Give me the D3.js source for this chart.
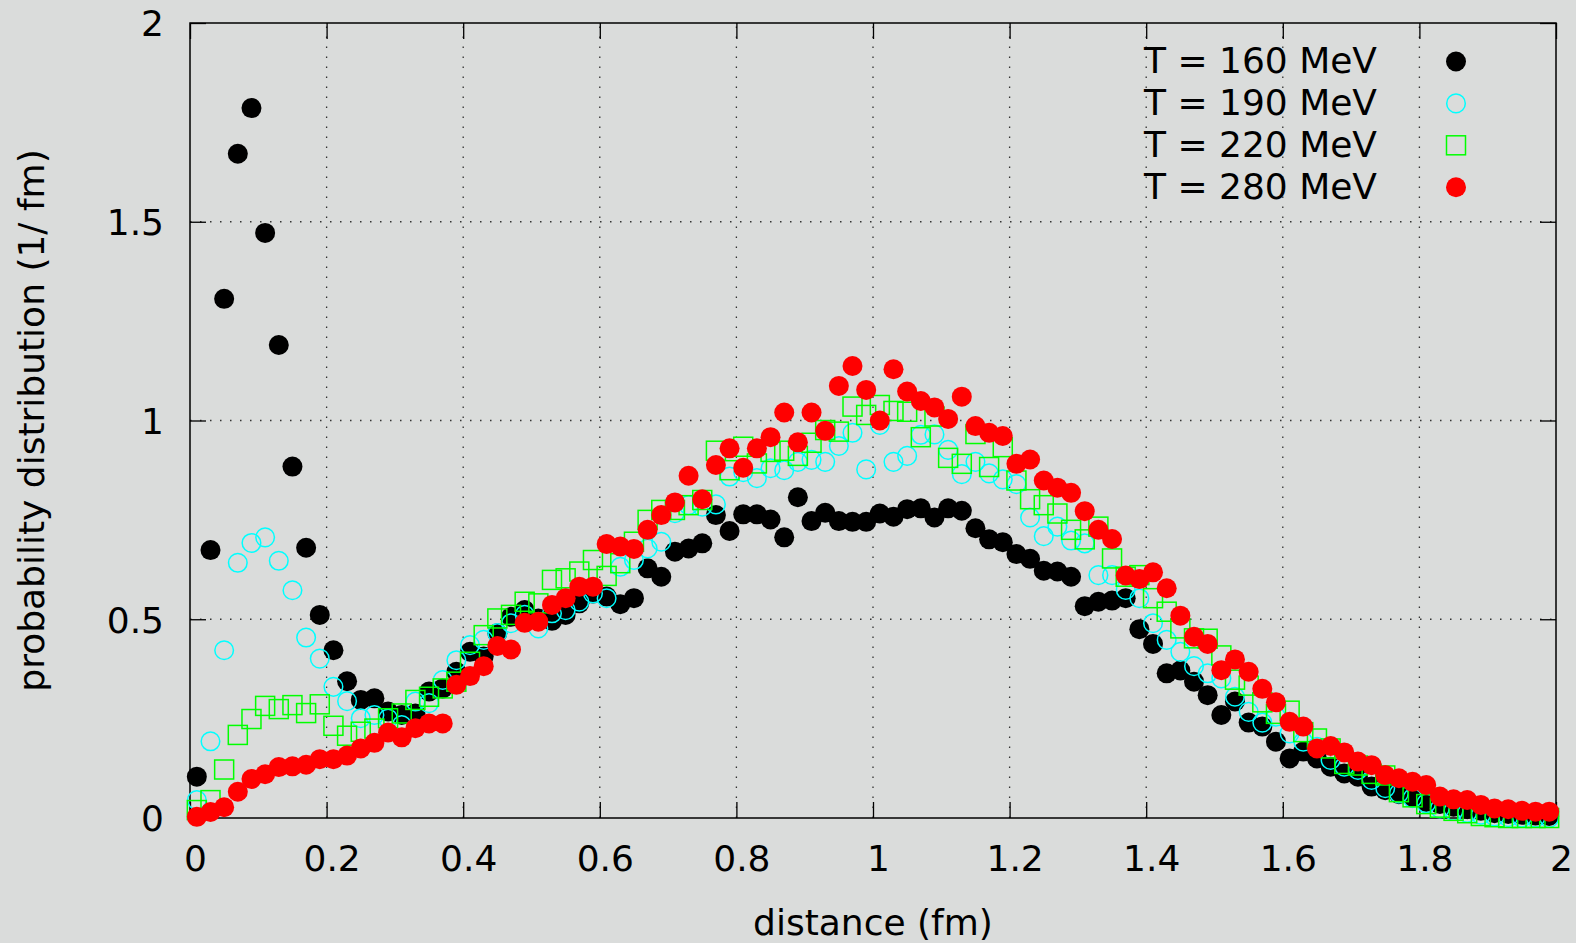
<!DOCTYPE html>
<html><head><meta charset="utf-8">
<script src="https://cdn.jsdelivr.net/npm/d3@7"></script>
<style>
body{margin:0;background:#dadcdb;}
svg{display:block;}
text{font-family:"DejaVu Sans",sans-serif;fill:#000;}
</style>
</head><body>
<svg id="chart" width="1576" height="943"></svg>
<script>
// ---- data ----
const distance = [
0.01,0.03,0.05,0.07,0.09,0.11,0.13,0.15,0.17,0.19,
0.21,0.23,0.25,0.27,0.29,0.31,0.33,0.35,0.37,0.39,
0.41,0.43,0.45,0.47,0.49,0.51,0.53,0.55,0.57,0.59,
0.61,0.63,0.65,0.67,0.69,0.71,0.73,0.75,0.77,0.79,
0.81,0.83,0.85,0.87,0.89,0.91,0.93,0.95,0.97,0.99,
1.01,1.03,1.05,1.07,1.09,1.11,1.13,1.15,1.17,1.19,
1.21,1.23,1.25,1.27,1.29,1.31,1.33,1.35,1.37,1.39,
1.41,1.43,1.45,1.47,1.49,1.51,1.53,1.55,1.57,1.59,
1.61,1.63,1.65,1.67,1.69,1.71,1.73,1.75,1.77,1.79,
1.81,1.83,1.85,1.87,1.89,1.91,1.93,1.95,1.97,1.99];

const t160 = [
0.104,0.674,1.306,1.671,1.786,1.472,1.190,0.884,0.680,0.511,
0.422,0.344,0.297,0.301,0.268,0.259,0.263,0.318,0.326,0.368,
0.418,0.406,0.465,0.506,0.523,0.502,0.496,0.511,0.540,0.565,
0.557,0.538,0.553,0.628,0.607,0.670,0.678,0.691,0.762,0.722,
0.764,0.764,0.751,0.706,0.807,0.747,0.768,0.747,0.745,0.745,
0.766,0.758,0.777,0.779,0.756,0.779,0.773,0.729,0.701,0.694,
0.664,0.652,0.622,0.620,0.607,0.533,0.544,0.547,0.553,0.475,
0.438,0.364,0.371,0.343,0.309,0.259,0.293,0.240,0.230,0.192,
0.150,0.167,0.150,0.129,0.112,0.104,0.079,0.070,0.060,0.052,
0.040,0.035,0.028,0.022,0.018,0.012,0.010,0.008,0.006,0.005];

const t190 = [
0.045,0.193,0.422,0.642,0.692,0.706,0.647,0.573,0.454,0.401,
0.330,0.294,0.251,0.259,0.250,0.234,0.293,0.289,0.347,0.397,
0.435,0.448,0.465,0.490,0.511,0.477,0.515,0.523,0.544,0.565,
0.553,0.632,0.649,0.678,0.695,0.767,0.787,0.783,0.789,0.859,
0.870,0.855,0.880,0.875,0.896,0.901,0.896,0.936,0.969,0.877,
0.989,0.896,0.911,0.964,0.965,0.926,0.865,0.896,0.867,0.852,
0.840,0.756,0.709,0.733,0.698,0.691,0.611,0.611,0.574,0.553,
0.490,0.448,0.418,0.382,0.364,0.351,0.305,0.267,0.240,0.255,
0.213,0.192,0.179,0.146,0.129,0.121,0.096,0.075,0.062,0.050,
0.037,0.024,0.018,0.013,0.008,0.004,0.002,0.001,0.001,0.000];

const t220 = [
0.020,0.045,0.122,0.209,0.249,0.282,0.274,0.284,0.264,0.286,
0.232,0.207,0.217,0.225,0.251,0.263,0.297,0.305,0.326,0.343,
0.393,0.460,0.502,0.511,0.544,0.540,0.599,0.603,0.620,0.649,
0.609,0.641,0.695,0.750,0.775,0.775,0.787,0.800,0.924,0.875,
0.934,0.892,0.921,0.924,0.911,0.944,0.976,0.972,1.035,1.014,
1.039,1.024,1.022,0.958,1.010,0.906,0.891,0.966,0.883,0.933,
0.849,0.802,0.787,0.766,0.725,0.701,0.733,0.653,0.607,0.611,
0.553,0.519,0.477,0.452,0.451,0.409,0.348,0.333,0.291,0.262,
0.270,0.216,0.200,0.175,0.136,0.132,0.111,0.107,0.065,0.052,
0.035,0.026,0.018,0.012,0.005,0.002,0.000,0.000,0.000,0.000];

const t280 = [
0.003,0.015,0.027,0.066,0.098,0.110,0.128,0.130,0.134,0.148,
0.148,0.157,0.175,0.189,0.215,0.203,0.226,0.238,0.238,0.335,
0.357,0.382,0.433,0.424,0.491,0.494,0.536,0.553,0.582,0.582,
0.689,0.683,0.677,0.725,0.762,0.794,0.861,0.802,0.888,0.930,
0.881,0.930,0.958,1.020,0.945,1.020,0.974,1.087,1.137,1.077,
1.000,1.129,1.073,1.049,1.033,1.004,1.060,0.986,0.969,0.961,
0.891,0.902,0.849,0.831,0.818,0.772,0.725,0.702,0.610,0.601,
0.618,0.578,0.509,0.456,0.438,0.372,0.399,0.368,0.325,0.291,
0.242,0.230,0.175,0.181,0.165,0.142,0.133,0.108,0.100,0.091,
0.083,0.054,0.047,0.045,0.033,0.024,0.022,0.018,0.016,0.016];

const seriesNames = ["T = 160 MeV","T = 190 MeV","T = 220 MeV","T = 280 MeV"];
const xTicks = [0,0.2,0.4,0.6,0.8,1,1.2,1.4,1.6,1.8,2];
const xTickLabels = ["0","0.2","0.4","0.6","0.8","1","1.2","1.4","1.6","1.8","2"];
const yTicks = [0,0.5,1,1.5,2];
const yTickLabels = ["0","0.5","1","1.5","2"];
const xTitle = "distance (fm)";
const yTitle = "probability distribution (1/ fm)";

// ---- layout ----
const L = 190, R = 1556, T = 23, B = 818;
const svg = d3.select("#chart");
const x = d3.scaleLinear().domain([0, 2]).range([L, R]);
const y = d3.scaleLinear().domain([0, 2]).range([B, T]);

// background
svg.append("rect").attr("width",1576).attr("height",943).attr("fill","#dadcdb");

// grid
const grid = svg.append("g").attr("stroke","#333").attr("stroke-width",1.3).attr("stroke-dasharray","1.5,8.5");
grid.selectAll("line.vx").data(xTicks.filter(d => d > 0 && d < 2)).join("line")
  .attr("x1", d => x(d)).attr("x2", d => x(d)).attr("y1", B).attr("y2", T);
grid.selectAll("line.hy").data(yTicks.filter(d => d > 0 && d < 2)).join("line")
  .attr("x1", L).attr("x2", R).attr("y1", d => y(d)).attr("y2", d => y(d));

// axes
const fmtX = (d) => xTickLabels[xTicks.indexOf(d)];
const fmtY = (d) => yTickLabels[yTicks.indexOf(d)];
const gx = svg.append("g").attr("transform",`translate(0,${B})`)
  .call(d3.axisBottom(x).tickValues(xTicks).tickFormat(fmtX).tickSizeInner(-16).tickSizeOuter(0).tickPadding(27));
const gy = svg.append("g").attr("transform",`translate(${L},0)`)
  .call(d3.axisLeft(y).tickValues(yTicks).tickFormat(fmtY).tickSizeInner(-16).tickSizeOuter(0).tickPadding(26));
const gt = svg.append("g").attr("transform",`translate(0,${T})`)
  .call(d3.axisTop(x).tickValues(xTicks).tickFormat("").tickSizeInner(-16).tickSizeOuter(0));
const gr = svg.append("g").attr("transform",`translate(${R},0)`)
  .call(d3.axisRight(y).tickValues(yTicks).tickFormat("").tickSizeInner(-16).tickSizeOuter(0));
[gx,gy,gt,gr].forEach(g => {
  g.select(".domain").remove();
  g.selectAll(".tick line").attr("stroke","#000").attr("stroke-width",1.3);
  g.selectAll("text").attr("font-family","DejaVu Sans").attr("font-size",36).attr("fill","#000");
});
gx.selectAll("text").attr("dx", 5);
gy.selectAll("text").attr("dy","0.36em");

// frame
svg.append("rect").attr("x",L).attr("y",T).attr("width",R-L).attr("height",B-T)
  .attr("fill","none").attr("stroke","#000").attr("stroke-width",1.5);

// titles
svg.append("text").attr("x",(L+R)/2).attr("y",935).attr("text-anchor","middle")
  .attr("font-size",36).text(xTitle);
svg.append("text").attr("transform",`translate(44,${(T+B)/2}) rotate(-90)`).attr("text-anchor","middle")
  .attr("font-size",36).text(yTitle);

// markers
const series = [
  {name: seriesNames[0], vals: t160, type: "fcircle", color: "#000000"},
  {name: seriesNames[1], vals: t190, type: "ocircle", color: "#00ffff"},
  {name: seriesNames[2], vals: t220, type: "osquare", color: "#00ff00"},
  {name: seriesNames[3], vals: t280, type: "fcircle", color: "#ff0000"}
];
function drawMarker(g, type, color) {
  if (type === "fcircle") g.append("circle").attr("r",10).attr("fill",color);
  else if (type === "ocircle") g.append("circle").attr("r",9.3).attr("fill","none").attr("stroke",color).attr("stroke-width",1.5);
  else g.append("rect").attr("x",-9.5).attr("y",-9.5).attr("width",19).attr("height",19)
        .attr("fill","none").attr("stroke",color).attr("stroke-width",1.5);
}
series.forEach(s => {
  const g = svg.append("g");
  g.selectAll("g").data(distance.map((d,i) => [d, s.vals[i]])).join("g")
    .attr("transform", d => `translate(${x(d[0])},${y(d[1])})`)
    .each(function(){ drawMarker(d3.select(this), s.type, s.color); });
});

// legend
series.forEach((s,k) => {
  const cy = 61.5 + k*41.9;
  svg.append("text").attr("x",1377).attr("y",cy+11.5).attr("text-anchor","end").attr("font-size",36).text(s.name);
  const g = svg.append("g").attr("transform",`translate(1456,${cy})`);
  drawMarker(g, s.type, s.color);
});
</script>
</body></html>
